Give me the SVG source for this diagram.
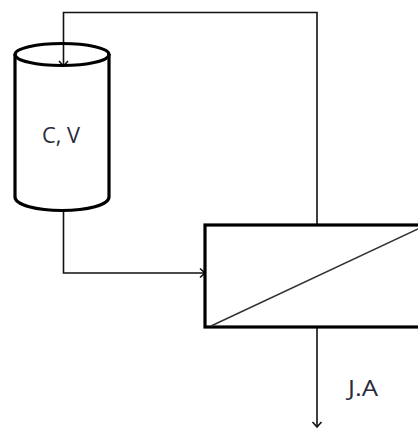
<svg xmlns="http://www.w3.org/2000/svg" width="418" height="428" viewBox="0 0 418 428">
<style>
.thick{fill:none;stroke:#000;stroke-width:3.200}
.thin{fill:none;stroke:#111;stroke-width:1.600}
.head{fill:none;stroke:#111;stroke-width:1.600}
.lab{font-family:"Open Sans","Liberation Sans",sans-serif;font-size:21px;fill:#2a2a3a}
</style>
<defs>
<marker id="arr" markerUnits="userSpaceOnUse" markerWidth="14" markerHeight="14" refX="12" refY="7" orient="auto">
<path d="M7 2.500L12 7L7 11.500" class="head"/>
</marker>
</defs>
<rect width="418" height="428" fill="#fff"/>
<g id="connectors">
<path class="thin" d="M317 224V12.500H63.500V66" marker-end="url(#arr)"/>
<path class="thin" d="M63.500 210V273H205" marker-end="url(#arr)"/>
<path class="thin" d="M317 327V427" marker-end="url(#arr)"/>
</g>
<g id="tank">
<path class="thick" d="M15 54V197C15 205 37 210.500 62 210.500C87 210.500 109 205 109 197V54"/>
<ellipse class="thick" cx="62" cy="54.500" rx="47" ry="11"/>
<text class="lab" x="61" y="143" text-anchor="middle" textLength="38" lengthAdjust="spacingAndGlyphs">C, V</text>
</g>
<g id="exchanger">
<rect class="thick" x="205" y="225" width="216" height="102"/>
<path d="M211 326L418 229" fill="none" stroke="#333" stroke-width="1.500"/>
</g>
<g id="label-ja">
<text class="lab" x="363" y="396" text-anchor="middle" textLength="30" lengthAdjust="spacingAndGlyphs">J.A</text>
</g>
</svg>
